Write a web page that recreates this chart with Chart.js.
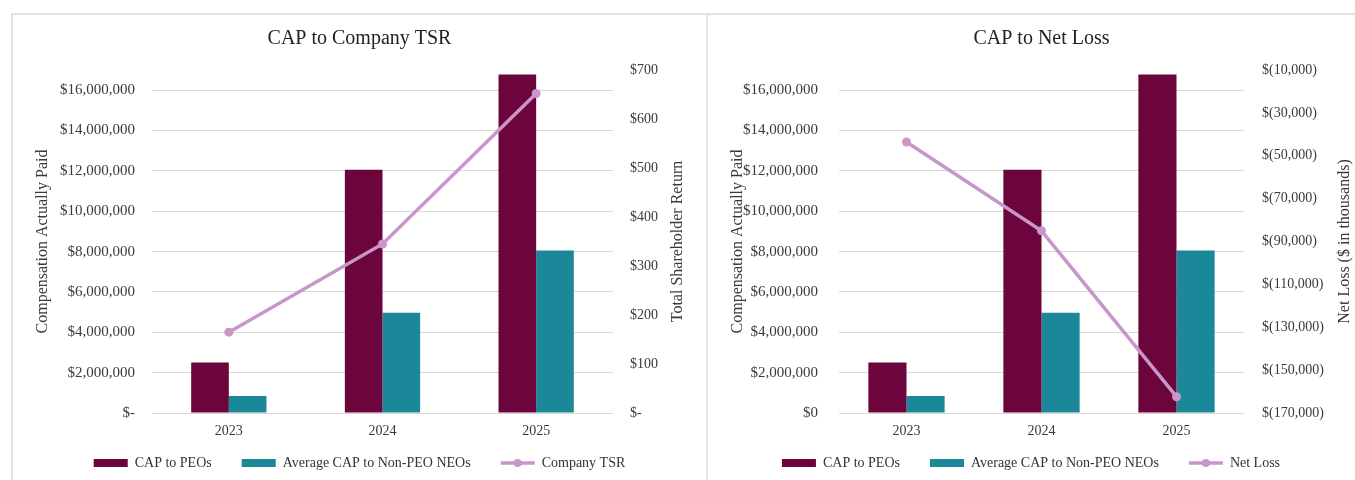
<!DOCTYPE html>
<html>
<head>
<meta charset="utf-8">
<script src="https://cdn.jsdelivr.net/npm/chart.js@4.4.1/dist/chart.umd.min.js"></script>
<style>
  body { margin: 0; background: #fff; width: 1355px; height: 480px; overflow: hidden; position: relative; }
  .panel { position: absolute; top: 14px; height: 466px; }
  .rule { position: absolute; background: #e2e2e2; z-index: 2; }
</style>
</head>
<body>
<div class="panel" style="left:12px;width:695px"><canvas id="tsrChart"></canvas></div>
<div class="panel" style="left:707px;width:648px"><canvas id="lossChart"></canvas></div>
<div class="rule" style="left:11px;top:13px;width:1344px;height:2px"></div>
<div class="rule" style="left:11px;top:13px;width:2px;height:467px"></div>
<div class="rule" style="left:706px;top:13px;width:2px;height:467px"></div>
<script>
// values
const years = ['2023', '2024', '2025'];
const capPeo = [2500000, 12050000, 16780000];
const capNonPeo = [840000, 4970000, 8060000];
const companyTsr = [165, 345, 652];
const netLoss = [-43600, -85000, -162400];

// left axis ticks (axis runs to 17M but labels stop at 16M)
const capTicks = [0, 2000000, 4000000, 6000000, 8000000, 10000000, 12000000, 14000000, 16000000];

const maroon = '#6C053C';
const teal = '#1A8899';
const orchid = '#C896C8';
const gridColor = '#d9d9d9';

Chart.defaults.font.family = '"Liberation Serif", "Times New Roman", serif';
Chart.defaults.color = '#3a3a3a';

// right-hand axis title (bottom to top like Excel) + dot on the line legend item
const extras = {
  id: 'extras',
  afterLayout(chart) {
    // let the year labels hang down into the (empty) top of the legend box
    const x = chart.scales.x;
    x.bottom = x.top + 32;
  },
  afterDraw(chart, args, opts) {
    const s = chart.scales.y1;
    const ctx = chart.ctx;
    ctx.save();
    ctx.translate(s.right - opts.offset, (chart.chartArea.top + chart.chartArea.bottom) / 2);
    ctx.rotate(-Math.PI / 2);
    ctx.font = '16px "Liberation Serif", "Times New Roman", serif';
    ctx.fillStyle = '#3a3a3a';
    ctx.textAlign = 'center';
    ctx.textBaseline = 'middle';
    ctx.fillText(opts.text, 0, 0);
    ctx.restore();

    const box = chart.legend.legendHitBoxes[2];
    if (box) {
      ctx.save();
      ctx.fillStyle = orchid;
      ctx.beginPath();
      ctx.arc(box.left + 17, box.top + 7, 4, 0, Math.PI * 2);
      ctx.fill();
      ctx.restore();
    }
  }
};

const money = v => '$' + v.toLocaleString('en-US');

function legendLabels(chart) {
  const items = Chart.defaults.plugins.legend.labels.generateLabels(chart);
  items.forEach(it => {
    const ds = chart.data.datasets[it.datasetIndex];
    if (ds.type === 'line') {
      it.pointStyle = 'line';
      it.lineWidth = 3.5;
      it.strokeStyle = orchid;
    } else {
      it.pointStyle = 'rect';
      it.lineWidth = 0;
    }
  });
  return items;
}

function buildChart(id, cfg) {
  const ctx = document.getElementById(id).getContext('2d');
  return new Chart(ctx, {
    type: 'bar',
    data: {
      labels: years,
      datasets: [
        { label: 'CAP to PEOs', data: capPeo, backgroundColor: maroon, order: 1, yAxisID: 'y',
          categoryPercentage: cfg.catPct, barPercentage: 1 },
        { label: 'Average CAP to Non-PEO NEOs', data: capNonPeo, backgroundColor: teal, order: 1, yAxisID: 'y',
          categoryPercentage: cfg.catPct, barPercentage: 1 },
        { type: 'line', label: cfg.lineLabel, data: cfg.lineData, yAxisID: 'y1', order: 0,
          borderColor: orchid, backgroundColor: orchid, borderWidth: 3.5,
          pointRadius: 4.5, pointBackgroundColor: orchid, pointBorderWidth: 0 }
      ]
    },
    options: {
      responsive: true,
      maintainAspectRatio: false,
      animation: false,
      layout: { padding: 0 },
      plugins: {
        title: {
          display: true, text: cfg.title, color: '#222', fullSize: cfg.titleFull,
          font: { size: 20, weight: 'normal' }, padding: { top: 13, bottom: 19 }
        },
        legend: {
          position: 'bottom',
          maxHeight: 54,
          labels: {
            usePointStyle: true, pointStyleWidth: 34, boxHeight: 8, padding: 30,
            font: { size: 14 }, color: '#333',
            generateLabels: legendLabels,
            sort: (a, b) => a.datasetIndex - b.datasetIndex
          }
        },
        tooltip: { enabled: false },
        extras: { text: cfg.rightTitle, offset: cfg.rightTitleOffset }
      },
      scales: {
        x: {
          grid: { display: false, drawTicks: false },
          border: { display: false },
          ticks: { padding: 10, font: { size: 14 } },
          afterFit: s => { s.height = 13; }
        },
        y: {
          position: 'left',
          min: 0, max: 17000000,
          grid: { color: gridColor, drawTicks: false },
          border: { display: false },
          ticks: { padding: cfg.leftPad, font: { size: 15 },
            callback: v => v === 0 ? cfg.zeroLabel : money(v) },
          afterBuildTicks: s => { s.ticks = capTicks.map(v => ({ value: v })); },
          title: { display: true, text: 'Compensation Actually Paid', font: { size: 16 }, color: '#3a3a3a',
            padding: { top: 21, bottom: 0 } },
          afterFit: s => { s.width = cfg.leftWidth; }
        },
        y1: cfg.rightAxis
      }
    },
    plugins: [extras]
  });
}

buildChart('tsrChart', {
  title: 'CAP to Company TSR', titleFull: true, catPct: 0.49,
  lineLabel: 'Company TSR', lineData: companyTsr,
  zeroLabel: '$-', leftWidth: 140, leftPad: 17,
  rightTitle: 'Total Shareholder Return', rightTitleOffset: 29,
  rightAxis: {
    position: 'right', min: 0, max: 700,
    grid: { display: false, drawTicks: false },
    border: { display: false },
    ticks: { stepSize: 100, padding: 17, font: { size: 14 },
      callback: v => v === 0 ? '$-' : money(v) },
    afterFit: s => { s.width = 94; }
  }
});

buildChart('lossChart', {
  title: 'CAP to Net Loss', titleFull: false, catPct: 0.565,
  lineLabel: 'Net Loss', lineData: netLoss,
  zeroLabel: '$0', leftWidth: 132, leftPad: 21,
  rightTitle: 'Net Loss ($ in thousands)', rightTitleOffset: 10,
  rightAxis: {
    position: 'right', min: -170000, max: -10000,
    grid: { display: false, drawTicks: false },
    border: { display: false },
    ticks: { stepSize: 20000, padding: 18, font: { size: 14 },
      callback: v => '$(' + Math.abs(v).toLocaleString('en-US') + ')' },
    afterFit: s => { s.width = 111; }
  }
});
</script>
</body>
</html>
